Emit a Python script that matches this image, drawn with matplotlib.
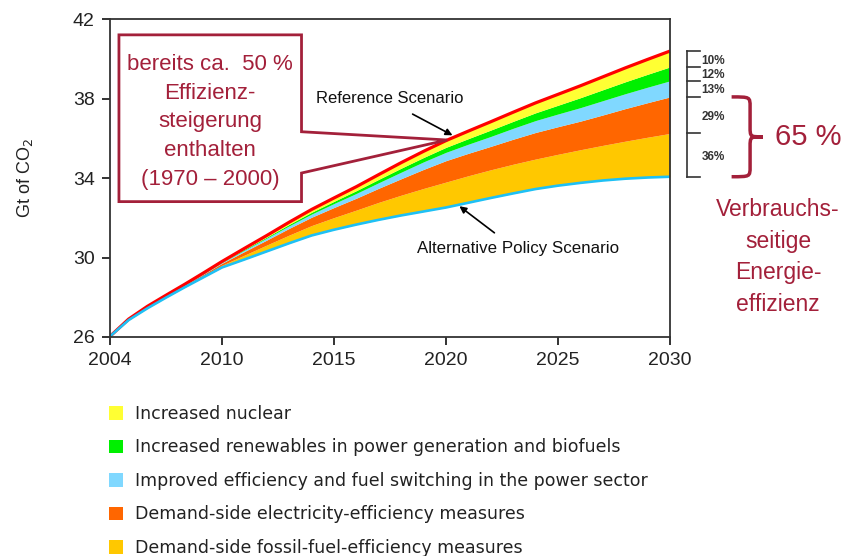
import numpy as np
import matplotlib
matplotlib.use('Agg')
import matplotlib.pyplot as plt
from matplotlib.patches import Patch, Polygon, PathPatch
from matplotlib.path import Path
from matplotlib.transforms import blended_transform_factory

# data (Gt CO2)
years = list(range(2004, 2031))
alternative = [26.03, 26.85, 27.44, 27.98, 28.50, 29.00, 29.50, 29.90, 30.31, 30.72, 31.11, 31.40, 31.66, 31.90,
               32.12, 32.32, 32.52, 32.76, 33.00, 33.23, 33.45, 33.62, 33.76, 33.88, 33.97, 34.03, 34.07]
nuclear = [0, .005, .01, .01, .02, .02, .03, .05, .08, .11, .14, .17, .20, .24,
           .28, .31, .34, .38, .42, .46, .50, .55, .60, .65, .70, .75, .80]
renewables = [0, .005, .01, .01, .01, .02, .02, .04, .05, .07, .09, .11, .14, .17,
              .20, .22, .25, .28, .32, .35, .39, .44, .50, .55, .60, .65, .70]
power = [0, .01, .02, .02, .02, .03, .04, .07, .10, .13, .16, .20, .24, .28,
         .33, .38, .42, .46, .50, .55, .60, .64, .68, .72, .75, .78, .81]
electricity = [0, .015, .03, .04, .05, .07, .10, .18, .25, .34, .42, .51, .60, .71,
               .83, .96, 1.08, 1.13, 1.18, 1.26, 1.34, 1.39, 1.44, 1.53, 1.64, 1.74, 1.84]
fossil = [0, .015, .03, .04, .05, .08, .11, .22, .32, .41, .50, .61, .73, .88,
          1.02, 1.16, 1.28, 1.36, 1.42, 1.47, 1.51, 1.58, 1.67, 1.77, 1.89, 2.03, 2.18]

labels = ['Increased nuclear',
          'Increased renewables in power generation and biofuels',
          'Improved efficiency and fuel switching in the power sector',
          'Demand-side electricity-efficiency measures',
          'Demand-side fossil-fuel-efficiency measures']
colors = ['#FFFF33', '#00F000', '#80D8FF', '#FF6600', '#FFC800']
shares = ['10%', '12%', '13%', '29%', '36%']
xticks = [2004, 2010, 2015, 2020, 2025, 2030]
yticks = [26, 30, 34, 38, 42]

darkred = '#A3203A'
plt.rcParams['font.family'] = ['Liberation Sans', 'DejaVu Sans']

fig = plt.figure(figsize=(8.48, 5.56), dpi=100)
ax = fig.add_axes([0.1297, 0.394, 0.6604, 0.5713])

# the original axis squeezes 2004-2010 into one 5-year step
ax.set_xscale('function', functions=(lambda x: np.interp(x, [2004, 2010, 2030], [0, 5, 25]),
                                     lambda p: np.interp(p, [0, 5, 25], [2004, 2010, 2030])))

yrs = np.array(years)
base = np.array(alternative)
stack = [fossil, electricity, power, renewables, nuclear]
lower = base.copy()
for vals, c in zip(stack, colors[::-1]):
    upper = lower + np.array(vals)
    ax.fill_between(yrs, lower, upper, color=c, lw=0)
    lower = upper
reference = lower
ax.plot(yrs, reference, color='#FF0000', lw=2.3, solid_capstyle='butt')
ax.plot(yrs, base, color='#1EC0F5', lw=1.9, solid_capstyle='butt')

ax.set_xlim(2004, 2030)
ax.set_ylim(26, 42)
ax.set_xticks(xticks)
ax.set_xticklabels([str(t) for t in xticks])
ax.set_yticks(yticks)
ax.tick_params(direction='out', length=6, width=1.3, labelsize=14, colors='#222222', pad=5)
for s in ax.spines.values():
    s.set_color('#333333')
    s.set_linewidth(1.3)
ax.set_ylabel('Gt of CO$_2$', fontsize=13, color='#222222', labelpad=27)

ax.annotate('', xy=(2020.4, 36.09), xytext=(2018.4, 37.29),
            arrowprops=dict(arrowstyle='-|>', color='black', lw=1.2, mutation_scale=10))
ax.text(2017.5, 38.0, 'Reference Scenario', fontsize=12, ha='center', va='center', color='#111111')
ax.annotate('', xy=(2020.5, 32.67), xytext=(2022.26, 31.16),
            arrowprops=dict(arrowstyle='-|>', color='black', lw=1.2, mutation_scale=10))
ax.text(2023.2, 30.44, 'Alternative Policy Scenario', fontsize=12.2, ha='center', va='center',
        color='#111111')

# callout box
callout = Polygon([(0.016, 0.951), (0.342, 0.951), (0.342, 0.646), (0.602, 0.620),
                   (0.342, 0.516), (0.342, 0.426), (0.016, 0.426)],
                  closed=True, transform=ax.transAxes, facecolor='white',
                  edgecolor=darkred, lw=2, zorder=5)
ax.add_patch(callout)
ax.text(0.179, 0.677, 'bereits ca.  50 %\nEffizienz-\nsteigerung\nenthalten\n(1970 \u2013 2000)',
        transform=ax.transAxes, ha='center', va='center', fontsize=16, color=darkred,
        linespacing=1.48, zorder=6)

# bracket with shares at 2030
tr = blended_transform_factory(ax.transAxes, ax.transData)
levels = [reference[-1]]
acc = reference[-1]
for vals in stack[::-1]:
    acc = acc - vals[-1]
    levels.append(acc)
ax.plot([1.030, 1.030], [levels[0], levels[-1]], transform=tr, color='#333333', lw=1.2, clip_on=False)
for lv in levels:
    ax.plot([1.030, 1.054], [lv, lv], transform=tr, color='#333333', lw=1.2, clip_on=False)
for k, sh in enumerate(shares):
    mid = (levels[k] + levels[k + 1]) / 2 - 0.08
    ax.text(1.056, mid, sh, transform=tr, fontsize=8.5, fontweight='bold', color='#333333',
            ha='left', va='center', clip_on=False)

top, bot = levels[3], levels[5]
mid = (top + bot) / 2
x0, x1, x2, r = 1.110, 1.143, 1.166, 0.5
verts = [(x0, top), (x1, top), (x1, top), (x1, top - r),
         (x1, mid + r), (x1, mid), (x1, mid), (x2, mid),
         (x1, mid), (x1, mid), (x1, mid - r),
         (x1, bot + r), (x1, bot), (x1, bot), (x0, bot)]
codes = [Path.MOVETO, Path.CURVE4, Path.CURVE4, Path.CURVE4,
         Path.LINETO, Path.CURVE4, Path.CURVE4, Path.CURVE4,
         Path.CURVE4, Path.CURVE4, Path.CURVE4,
         Path.LINETO, Path.CURVE4, Path.CURVE4, Path.CURVE4]
ax.add_patch(PathPatch(Path(verts, codes), transform=tr, facecolor='none',
                       edgecolor=darkred, lw=2.5, clip_on=False))
ax.text(1.188, mid, '65 %', transform=tr, fontsize=21, color=darkred,
        ha='left', va='center', clip_on=False)
ax.text(1.193, 30.03, 'Verbrauchs-\nseitige\nEnergie-\neffizienz', transform=tr, fontsize=16.5,
        color=darkred, ha='center', va='center', linespacing=1.48, clip_on=False)

handles = [Patch(facecolor=c, edgecolor='none') for c in colors]
fig.legend(handles, labels, loc='upper left', bbox_to_anchor=(0.1285, 0.2716), frameon=False,
           prop={'family': 'DejaVu Sans', 'size': 12.5}, handlelength=0.82, handleheight=0.82,
           handletextpad=0.7, labelspacing=0.89, borderpad=0, borderaxespad=0,
           labelcolor='#222222')

fig.savefig('out.png', dpi=100)
